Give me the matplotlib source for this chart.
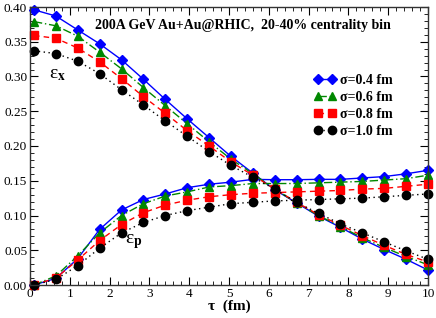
import numpy as np
import matplotlib
matplotlib.use("Agg")
import matplotlib.pyplot as plt
from matplotlib.ticker import MultipleLocator, FormatStrFormatter

plt.rcParams['font.family'] = ['Liberation Serif', 'DejaVu Serif']
plt.rcParams['mathtext.fontset'] = 'stix'

# proper time (fm)
tau = [0.1, 0.65, 1.2, 1.75, 2.3, 2.85, 3.4, 3.95, 4.5, 5.05,
       5.6, 6.15, 6.7, 7.25, 7.8, 8.35, 8.9, 9.45, 10.0]

# spatial eccentricity eps_x
ex_04 = [0.396, 0.387, 0.367, 0.347, 0.324, 0.296, 0.267, 0.239, 0.212, 0.185,
         0.161, 0.137, 0.118, 0.099, 0.083, 0.066, 0.051, 0.037, 0.0215]
ex_06 = [0.379, 0.373, 0.358, 0.335, 0.311, 0.284, 0.258, 0.232, 0.206, 0.181,
         0.160, 0.138, 0.118, 0.100, 0.084, 0.068, 0.054, 0.041, 0.029]
ex_08 = [0.359, 0.355, 0.341, 0.321, 0.297, 0.271, 0.247, 0.222, 0.200, 0.177,
         0.158, 0.138, 0.119, 0.101, 0.086, 0.071, 0.057, 0.044, 0.033]
ex_10 = [0.337, 0.333, 0.322, 0.304, 0.281, 0.259, 0.236, 0.214, 0.192, 0.172,
         0.155, 0.138, 0.119, 0.103, 0.088, 0.075, 0.062, 0.049, 0.037]

# momentum anisotropy eps_p
ep_04 = [0.0, 0.0096, 0.038, 0.080, 0.108, 0.123, 0.131, 0.140, 0.145, 0.148,
         0.152, 0.1515, 0.1515, 0.152, 0.152, 0.154, 0.156, 0.160, 0.165]
ep_06 = [0.0, 0.013, 0.042, 0.075, 0.100, 0.117, 0.128, 0.134, 0.141, 0.143,
         0.146, 0.146, 0.146, 0.147, 0.148, 0.149, 0.151, 0.153, 0.158]
ep_08 = [0.0, 0.010, 0.036, 0.064, 0.087, 0.104, 0.115, 0.122, 0.127, 0.130,
         0.132, 0.133, 0.134, 0.135, 0.136, 0.138, 0.139, 0.142, 0.145]
ep_10 = [0.0, 0.008, 0.028, 0.053, 0.075, 0.090, 0.100, 0.107, 0.112, 0.117,
         0.119, 0.121, 0.122, 0.123, 0.124, 0.125, 0.127, 0.129, 0.131]

labels = ["σ=0.4 fm", "σ=0.6 fm", "σ=0.8 fm", "σ=1.0 fm"]

styles = [
    dict(color="#0000ff", linestyle="-", marker="D", markersize=5.0),
    dict(color="#008800", linestyle=(0, (6, 2, 1, 2)), marker="^", markersize=6.0),
    dict(color="#ff0000", linestyle=(0, (4, 3)), marker="s", markersize=5.5),
    dict(color="#000000", linestyle=(0, (1, 2.5)), marker="o", markersize=6.0),
]

fig = plt.figure(figsize=(4.36, 3.18), dpi=100)
ax = fig.add_axes([30 / 436, 33 / 318, 398 / 436, 278 / 318])

ex_all = [ex_04, ex_06, ex_08, ex_10]
ep_all = [ep_04, ep_06, ep_08, ep_10]
handles = []
for ex, ep, st, lab in zip(ex_all, ep_all, styles, labels):
    h, = ax.plot(tau, ex, lw=1.0, clip_on=False, label=lab, **st)
    ax.plot(tau, ep, lw=1.0, clip_on=False, **st)
    handles.append(h)

ax.set_xlim(0, 10)
ax.set_ylim(0, 0.4)
ax.xaxis.set_major_locator(MultipleLocator(1))
ax.xaxis.set_minor_locator(MultipleLocator(0.2))
ax.yaxis.set_major_locator(MultipleLocator(0.05))
ax.yaxis.set_minor_locator(MultipleLocator(0.01))
ax.yaxis.set_major_formatter(FormatStrFormatter('%.2f'))
ax.tick_params(which="both", direction="in", top=True, right=True, labelsize=9.5, pad=2)
ax.tick_params(which="major", length=6)
ax.tick_params(which="minor", length=3)
for s in ax.spines.values():
    s.set_linewidth(1.0)
    s.set_color("#333333")

ax.set_xlabel("τ  (fm)", fontsize=11, fontweight="bold", labelpad=0)

ax.text(5.35, 0.373, "200A GeV Au+Au@RHIC,  20-40% centrality bin",
        fontsize=10, fontweight="bold", ha="center", va="center")

ax.text(0.68, 0.303, r"ε$_{\mathbf{x}}$", fontsize=14, ha="center", va="center")
ax.text(2.6, 0.063, r"ε$_{\mathbf{p}}$", fontsize=14, ha="center", va="center")

leg = ax.legend(handles=handles, loc="upper left", bbox_to_anchor=(0.695, 0.785),
                frameon=False, fontsize=10, numpoints=2, handlelength=1.6,
                handletextpad=0.3, labelspacing=0.3, borderpad=0)
for t in leg.get_texts():
    t.set_fontweight("bold")

fig.savefig("out.png", dpi=100)
